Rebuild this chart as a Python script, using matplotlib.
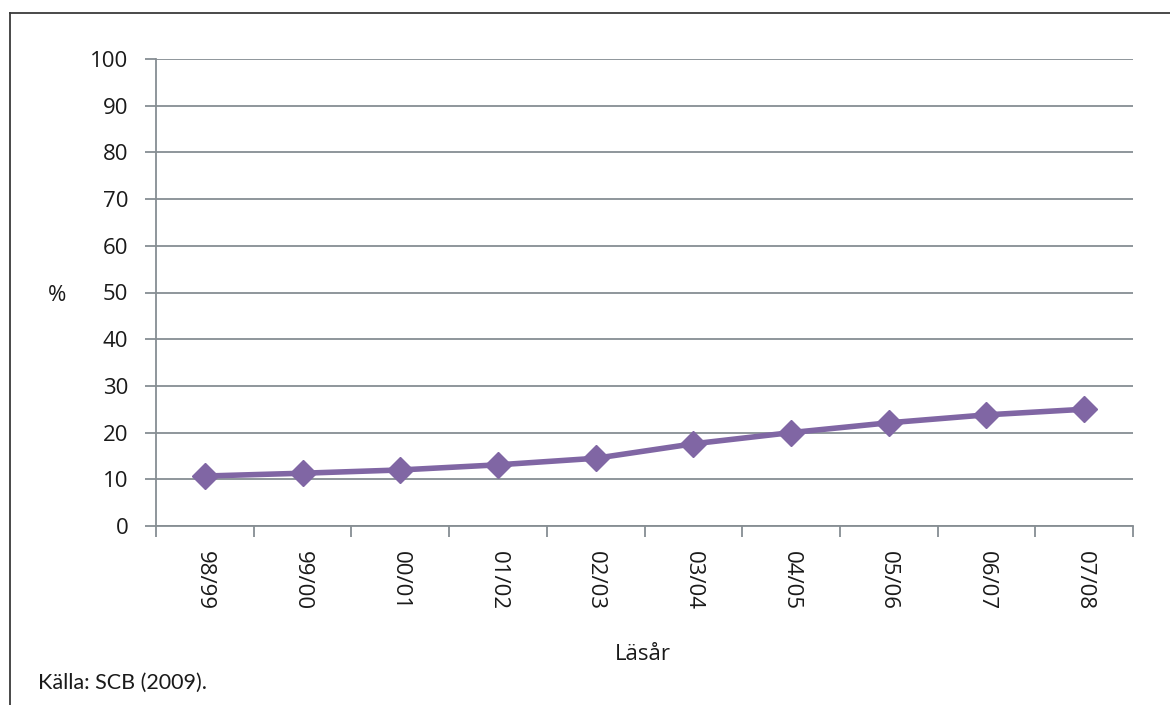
import matplotlib
matplotlib.use("Agg")
import matplotlib.pyplot as plt
from matplotlib.lines import Line2D
import numpy as np

plt.rcParams['font.family'] = ['Open Sans', 'DejaVu Sans']

years = ["98/99", "99/00", "00/01", "01/02", "02/03", "03/04", "04/05", "05/06", "06/07", "07/08"]
share = [10.7, 11.3, 12.0, 13.1, 14.5, 17.6, 20.0, 22.1, 23.8, 25.0]
yticks = list(range(0, 101, 10))

W, H = 1170, 705
fig = plt.figure(figsize=(W / 100, H / 100), dpi=100)
ax = fig.add_axes([156 / W, 1 - 526 / H, (1133 - 156) / W, (526 - 59) / H])

grid_c = "#868e93"
line_c = "#8066a4"
text_c = "#1a1a1a"

x = np.arange(len(years))
ax.set_xlim(-0.5, len(years) - 0.5)
ax.set_ylim(0, 100)
ax.set_yticks(yticks)
ax.set_yticklabels([str(v) for v in yticks], fontsize=16, color=text_c)
ax.yaxis.grid(True, color=grid_c, linewidth=1.3)
ax.set_axisbelow(True)

# category labels centred between boundary ticks
ax.set_xticks(np.arange(len(years) + 1) - 0.5)
ax.set_xticklabels([])
ax.set_xticks(x, minor=True)
ax.set_xticklabels(years, minor=True, rotation=-90, fontsize=16, color=text_c)
ax.tick_params(axis="x", which="minor", length=0, pad=18)
ax.tick_params(axis="x", which="major", length=8, width=1.3, color=grid_c)
ax.tick_params(axis="y", length=8, width=1.3, color=grid_c, pad=12)

for s in ["top", "right"]:
    ax.spines[s].set_visible(False)
for s in ["left", "bottom"]:
    ax.spines[s].set_color(grid_c)
    ax.spines[s].set_linewidth(1.3)

ax.plot(x, share, color=line_c, linewidth=4, marker="D", markersize=13,
        markerfacecolor=line_c, markeredgecolor=line_c, zorder=3)

fig.text(57 / W, 1 - 296 / H, "%", fontsize=16, ha="center", va="center", color=text_c)
fig.text(643 / W, 1 - 655 / H, "Läsår", fontsize=16, ha="center", va="center", color=text_c)
fig.text(38 / W, 1 - 683 / H, "Källa: SCB (2009).", fontsize=15.5, ha="left", va="center",
         color=text_c, family=["Lato", "DejaVu Sans"])

# outer frame (top and left edges)
frame_c = "#3a3a3a"
fig.add_artist(Line2D([10 / W, 1], [1 - 13 / H, 1 - 13 / H], color=frame_c, linewidth=1.3,
                      transform=fig.transFigure))
fig.add_artist(Line2D([10 / W, 10 / W], [1 - 13 / H, 0], color=frame_c, linewidth=1.3,
                      transform=fig.transFigure))

fig.savefig("out.png", dpi=100, facecolor="white")
